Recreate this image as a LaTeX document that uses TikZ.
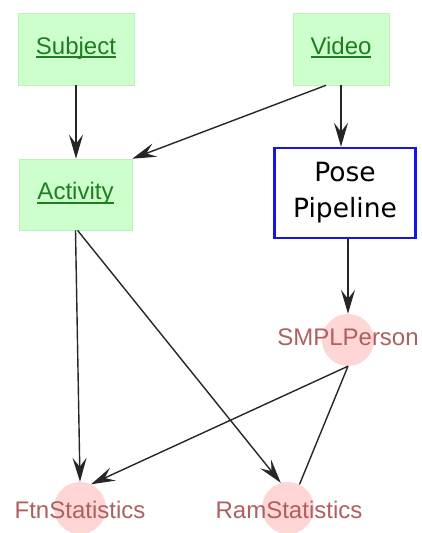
\documentclass[tikz,border=0pt]{standalone}
\usepackage{fontspec}
\setmainfont{Liberation Sans}
\newfontfamily\dejavu{DejaVu Sans}
\usetikzlibrary{arrows.meta,calc}
\definecolor{boxgreen}{RGB}{204,255,204}
\definecolor{boxgreenedge}{RGB}{190,240,190}
\definecolor{txtgreen}{RGB}{30,125,30}
\definecolor{pinkfill}{RGB}{255,214,214}
\definecolor{txtred}{RGB}{175,95,95}
\definecolor{poseblue}{RGB}{20,20,235}
\newcommand\myul[1]{\setbox0\hbox{#1}\rlap{\rule[-4pt]{\wd0}{1.8pt}}\box0}
\tikzset{
  greenbox/.style={rectangle, fill=boxgreen, draw=boxgreenedge, line width=0.6pt, inner sep=0pt,
    text=txtgreen, font=\fontsize{24}{28}\selectfont, text height=15pt, text depth=5pt},
  posebox/.style={rectangle, draw=poseblue, line width=2.5pt, fill=white, inner sep=0pt,
    align=center, font=\dejavu\fontsize{26.5}{36}\selectfont},
  pinkdot/.style={circle, fill=pinkfill, minimum size=52pt, inner sep=0pt},
  redlabel/.style={text=txtred, font=\fontsize{24}{28}\selectfont, inner sep=0pt},
  conn/.style={line width=1.4pt, draw=black!85},
  arrow/.style={conn, -{Stealth[length=24pt,width=14pt,inset=9pt]}},
}
\begin{document}
\begin{tikzpicture}[x=1pt,y=-1pt]
\useasboundingbox (0,0) rectangle (422,533);
\node[greenbox, minimum width=116pt, minimum height=72pt] (subject) at (76,49) {\myul{Subject}};
\node[greenbox, minimum width=96pt, minimum height=72pt] (video) at (341,49) {\myul{Video}};
\node[greenbox, minimum width=113pt, minimum height=71pt] (activity) at (75.5,194.5) {\myul{Activity}};
\node[posebox, minimum width=141pt, minimum height=90pt] (pose) at (345,193) {Pose\\Pipeline};
\node[pinkdot] (smpl) at (348,340) {};
\node[redlabel] (smpltext) at (348,337.5) {SMPLPerson};
\node[pinkdot] (ftn) at (80,508) {};
\node[redlabel] (ftntext) at (80,510) {FtnStatistics};
\node[pinkdot] (ram) at (288,508) {};
\node[redlabel] (ramtext) at (289,510) {RamStatistics};

\draw[arrow] (subject.south) -- (activity.north -| subject.south);
\draw[arrow] ([xshift=-15pt]video.south) -- (activity.north east);
\draw[arrow] (video.south) -- (pose.north -| video.south);
\draw[arrow] (pose.south -| smpl.north) -- (smpl.north);
\draw[arrow] (activity.south) -- (ftn.north);
\draw[arrow] ([xshift=2pt]activity.south) -- (ram.106);
\draw[arrow] (smpl.south) -- (ftn.65);
\draw[conn] (smpl.south) -- (ram.64);
\end{tikzpicture}
\end{document}
